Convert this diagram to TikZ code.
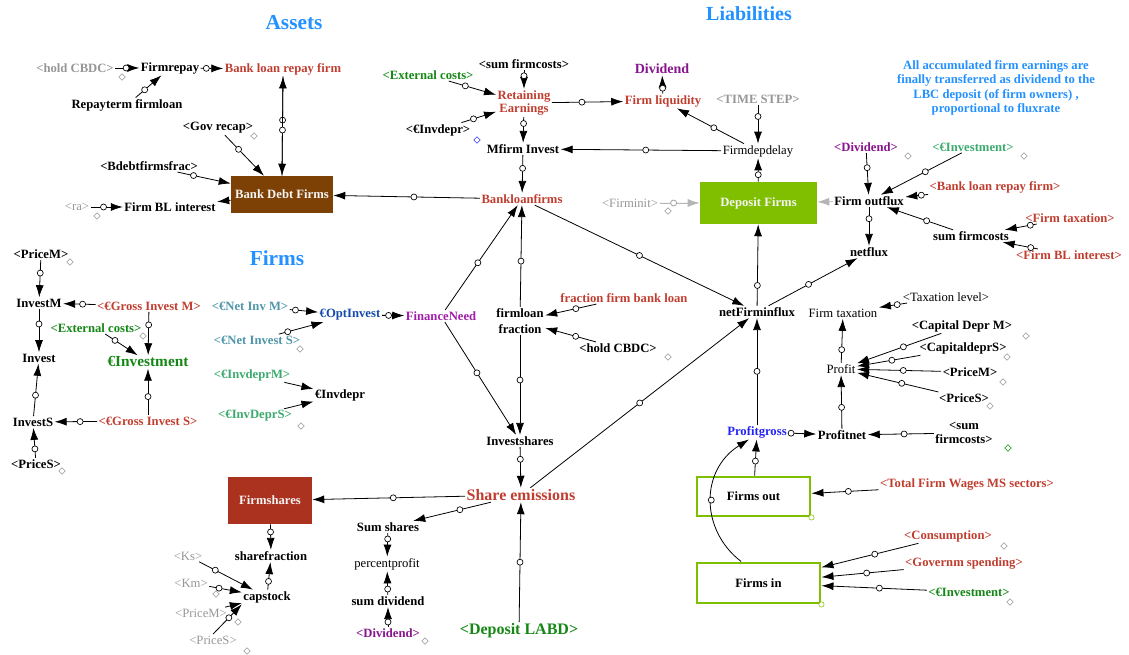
\documentclass[tikz,border=0pt]{standalone}
\usepackage{fontspec}
\setmainfont{Liberation Serif}
\usetikzlibrary{arrows.meta, shapes.geometric}

\definecolor{brick}{RGB}{192,62,48}
\definecolor{shade}{RGB}{150,150,150}
\definecolor{grn}{RGB}{20,135,20}
\definecolor{tealg}{RGB}{60,170,110}
\definecolor{tealb}{RGB}{80,150,170}
\definecolor{purp}{RGB}{135,20,140}
\definecolor{magen}{RGB}{160,30,170}
\definecolor{optblue}{RGB}{20,75,170}
\definecolor{pgblue}{RGB}{35,35,245}
\definecolor{headblue}{RGB}{35,145,255}
\definecolor{lime}{RGB}{128,190,0}
\definecolor{debtbrown}{RGB}{125,65,5}
\definecolor{sharebrick}{RGB}{170,50,30}

\begin{document}
\begin{tikzpicture}[x=0.75pt, y=-0.75pt,
    lbl/.style={font=\fontsize{9.5}{10}\selectfont\bfseries, inner sep=1pt, align=center},
    plain/.style={font=\fontsize{9.5}{10}\selectfont, inner sep=1pt},
    big/.style={font=\fontsize{12}{13}\selectfont\bfseries, inner sep=1pt},
    head/.style={font=\fontsize{16}{18}\selectfont\bfseries, text=headblue},
    stock/.style={lbl, text=white!92!gray, inner sep=0pt},
    flowbox/.style={lbl, draw=lime, line width=2.2pt, inner sep=0pt},
    link/.style={line width=0.6pt, -{Latex[length=9pt,width=6pt]}},
    ghost/.style={link, draw=shade!70, fill=shade!70},
    hnd/.style={circle, draw, fill=white, inner sep=0pt, minimum size=4.5pt, line width=0.5pt},
    dmark/.style={diamond, draw=shade, inner sep=0pt, minimum size=5pt, line width=0.4pt}]
\useasboundingbox (0,0) rectangle (1129,655);

% headings
\node[head] (assets) at (294,23) {Assets};
\node[head, font=\fontsize{15}{17}\selectfont\bfseries] (liabs) at (749,14) {Liabilities};
\node[head] (firms) at (277,258) {Firms};
\node[lbl, text=headblue, font=\fontsize{9.5}{10.9}\selectfont\bfseries] (note) at (996,88)
    {All accumulated firm earnings are\\finally transferred as dividend  to the\\LBC deposit (of firm owners) ,\\proportional to fluxrate};

% assets
\node[lbl, text=shade] (hcbdcA) at (75,68) {<hold CBDC>};
\node[lbl] (frepay) at (170,68) {Firmrepay};
\node[lbl, text=brick] (blrf) at (283,69) {Bank loan repay firm};
\node[lbl] (rterm) at (127,105) {Repayterm firmloan};
\node[lbl] (govrecap) at (218,128) {<Gov recap>};
\node[lbl] (bdff) at (149,166) {<Bdebtfirmsfrac>};
\node[plain, text=shade] (ra) at (77,207) {<ra>};
\node[lbl] (fbli) at (170,207) {Firm BL interest};
\node[stock, fill=debtbrown, minimum width=76.5pt, minimum height=27.75pt] (bdf) at (282,194.5) {Bank Debt Firms};

\draw[link] (hcbdcA) -- node[hnd, pos=.45]{} (frepay);
\draw[link] (frepay) -- node[hnd, pos=.25]{} (blrf);
\draw[link] (rterm) -- node[hnd, pos=.35]{} (frepay);
\draw[link] (bdf.north) -- node[hnd, pos=.56]{} (blrf.south);
\draw[link] (blrf.south) -- node[hnd, pos=.54]{} (bdf.north);
\draw[link] (govrecap) -- node[hnd, pos=.35]{} (bdf);
\draw[link] (bdff) -- node[hnd, pos=.3]{} (bdf);
\draw[link] (bdf) -- (fbli);
\draw[link] (ra) -- node[hnd, pos=.4]{} (fbli);

% liabilities
\node[lbl] (sfcA) at (524,64) {<sum firmcosts>};
\node[lbl, text=grn] (extA) at (428,75) {<External costs>};
\node[lbl, text=brick] (retearn) at (524,103) {Retaining\\Earnings};
\node[lbl] (invdprA) at (438,130) {<€Invdepr>};
\node[lbl] (mfinv) at (523,149) {Mfirm Invest};
\node[lbl, text=purp, font=\fontsize{10.5}{12}\selectfont\bfseries] (divid) at (662,69) {Dividend};
\node[lbl, text=brick] (fliq) at (663,101) {Firm liquidity};
\node[lbl, text=shade] (tstep) at (758,99) {<TIME STEP>};
\node[plain] (fdd) at (758,151) {Firmdepdelay};
\node[lbl, text=brick] (blf) at (522,199) {Bankloanfirms};
\node[plain, text=shade] (finit) at (630,203) {<Firminit>};
\node[stock, fill=lime, minimum width=87.75pt, minimum height=31.5pt] (depf) at (758.5,203) {Deposit Firms};

\draw[link] (sfcA) -- node[hnd, pos=.3]{} (retearn);
\draw[link] (extA) -- node[hnd, pos=.35]{} (retearn);
\draw[link] (invdprA) -- node[hnd, pos=.35]{} (retearn);
\draw[link] (retearn) -- node[hnd, pos=.42]{} (fliq);
\draw[link] (fliq) -- node[hnd, pos=.3]{} (divid);
\draw[link] (retearn) -- node[hnd, pos=.25]{} (mfinv);
\draw[link] (mfinv) -- node[hnd, pos=.35]{} (blf);
\draw[link] (fdd) -- node[hnd, pos=.47]{} (mfinv);
\draw[link] (fdd) -- node[hnd, pos=.45]{} (fliq);
\draw[link] (tstep) -- node[hnd, pos=.3]{} (fdd);
\draw[link] (depf) -- node[hnd, pos=.3]{} (fdd);
\draw[ghost] (finit) -- node[hnd, draw=shade, pos=.35]{} (depf);
\draw[link] (blf) -- node[hnd, pos=.45]{} (bdf);

% firm outflux
\node[lbl, text=purp] (dividB) at (866,147) {<Dividend>};
\node[lbl, text=tealg] (einvB) at (973,147) {<€Investment>};
\node[lbl] (foutf) at (869,201) {Firm outflux};
\node[lbl, text=brick] (blrfB) at (995,187) {<Bank loan repay firm>};
\node[lbl, text=brick] (ftaxB) at (1070,218) {<Firm taxation>};
\node[lbl] (sfc) at (971,236) {sum firmcosts};
\node[lbl, text=brick] (fbliB) at (1069,255) {<Firm BL interest>};
\node[lbl] (netflux) at (869,252) {netflux};

\draw[ghost] (foutf) -- (depf);
\draw[link] (dividB) -- node[hnd, pos=.35]{} (foutf);
\draw[link] (einvB) -- node[hnd, pos=.45]{} (foutf);
\draw[link] (blrfB) -- node[hnd, pos=.3]{} (foutf);
\draw[link] (sfc) -- node[hnd, pos=.4]{} (foutf);
\draw[link] (ftaxB) -- node[hnd, pos=.2]{} (sfc);
\draw[link] (fbliB) -- node[hnd, pos=.2]{} (sfc);
\draw[link] (foutf) -- node[hnd, pos=.3]{} (netflux);

% firms, left
\node[lbl] (pmA) at (41,254) {<PriceM>};
\node[lbl] (invm) at (39,303) {InvestM};
\node[lbl, text=brick] (gim) at (149,306) {<€Gross Invest M>};
\node[lbl, text=grn] (extB) at (96,328) {<External costs>};
\node[lbl, text=grn, font=\fontsize{11.5}{13}\selectfont\bfseries] (einv) at (148,362) {€Investment};
\node[lbl] (invest) at (39,358) {Invest};
\node[lbl] (invs) at (33,422) {InvestS};
\node[lbl, text=brick] (gis) at (148,421) {<€Gross Invest S>};
\node[lbl] (psA) at (36,464) {<PriceS>};

\draw[link] (pmA) -- node[hnd, pos=.35]{} (invm);
\draw[link] (gim) -- node[hnd, pos=.4]{} (invm);
\draw[link] (invm) -- node[hnd, pos=.35]{} (invest);
\draw[link] (invs) -- node[hnd, pos=.4]{} (invest);
\draw[link] (gis) -- node[hnd, pos=.4]{} (invs);
\draw[link] (psA) -- node[hnd, pos=.3]{} (invs);
\draw[link] (extB) -- node[hnd, pos=.3]{} (einv);
\draw[link] (gim) -- node[hnd, pos=.3]{} (einv);
\draw[link] (gis) -- node[hnd, pos=.4]{} (einv);

% firms, middle
\node[lbl, text=tealb] (nim) at (250,306) {<€Net Inv M>};
\node[lbl, text=tealb] (nis) at (257,340) {<€Net Invest S>};
\node[lbl, text=optblue] (optinv) at (350,315) {€OptInvest};
\node[lbl, text=magen] (finneed) at (441,316) {FinanceNeed};
\node[lbl, text=tealg] (idm) at (252,375) {<€InvdeprM>};
\node[lbl, text=tealg] (ids) at (255,416) {<€InvDeprS>};
\node[lbl] (invdpr) at (340,395) {€Invdepr};

\draw[link] (nim) -- node[hnd, pos=.2]{} (optinv);
\draw[link] (nis) -- node[hnd, pos=.2]{} (optinv);
\draw[link] (optinv) -- node[hnd, pos=.3]{} (finneed);
\draw[link] (idm) -- (invdpr);
\draw[link] (ids) -- (invdpr);

% centre
\node[lbl, font=\fontsize{9.5}{12}\selectfont\bfseries] (flf) at (520,321) {firmloan\\fraction};
\node[lbl, text=brick] (ffbl) at (624,298) {fraction firm bank loan};
\node[lbl] (hcbdcB) at (618,348) {<hold CBDC>};
\node[lbl] (invsh) at (520,441) {Investshares};
\node[big, text=brick] (shem) at (521,495) {Share emissions};
\node[lbl] (nfi) at (757,312) {netFirminflux};
\node[stock, fill=sharebrick, minimum width=63pt, minimum height=35.25pt] (fshares) at (270,500.5) {Firmshares};
\node[lbl] (sumsh) at (388,527) {Sum shares};
\node[plain] (pprof) at (387,564) {percentprofit};
\node[lbl] (sumdiv) at (388,601) {sum dividend};
\node[lbl, text=purp] (dividC) at (388,633) {<Dividend>};
\node[big, text=grn] (dlabd) at (519,631) {<Deposit LABD>};

\draw[link] (blf) -- node[hnd, pos=.5]{} (nfi);
\draw[link] (finneed) -- node[hnd, pos=.45]{} (blf);
\draw[link] (flf) -- node[hnd, pos=.45]{} (blf);
\draw[link] (ffbl) -- node[hnd, pos=.4]{} (flf);
\draw[link] (hcbdcB) -- node[hnd, pos=.4]{} (flf);
\draw[link] (finneed) -- node[hnd, pos=.45]{} (invsh);
\draw[link] (flf) -- node[hnd, pos=.45]{} (invsh);
\draw[link] (invsh) -- node[hnd, pos=.3]{} (shem);
\draw[link] (shem) -- node[hnd, pos=.5]{} (nfi);
\draw[link] (nfi) -- node[hnd, pos=.25]{} (depf);
\draw[link] (nfi) -- node[hnd, pos=.45]{} (netflux);
\draw[link] (shem) -- node[hnd, pos=.47]{} (fshares);
\draw[link] (shem) -- node[hnd, pos=.4]{} (sumsh);
\draw[link] (sumsh) -- node[hnd, pos=.25]{} (pprof);
\draw[link] (sumdiv) -- node[hnd, pos=.25]{} (pprof);
\draw[link] (dividC) -- node[hnd, pos=.25]{} (sumdiv);
\draw[link] (dlabd) -- node[hnd, pos=.5]{} (shem);

% shares
\node[lbl] (shfrac) at (271,556) {sharefraction};
\node[lbl] (capst) at (267,597) {capstock};
\node[plain, text=shade] (ks) at (188,556) {<Ks>};
\node[plain, text=shade] (km) at (191,583) {<Km>};
\node[plain, text=shade] (pmB) at (201,613) {<PriceM>};
\node[plain, text=shade] (psB) at (213,640) {<PriceS>};

\draw[link] (fshares) -- node[hnd, pos=.3]{} (shfrac);
\draw[link] (capst) -- node[hnd, pos=.3]{} (shfrac);
\draw[link] (ks) -- node[hnd, pos=.3]{} (capst);
\draw[link] (km) -- node[hnd, pos=.3]{} (capst);
\draw[link] (pmB) -- (capst);
\draw[link] (psB.north) -- node[hnd, pos=.55]{} (capst.south west);

% profit
\node[plain] (ftax) at (843,313) {Firm taxation};
\node[plain] (taxl) at (946,297) {<Taxation level>};
\node[plain] (profit) at (841,369) {Profit};
\node[lbl] (cdm) at (962,326) {<Capital Depr M>};
\node[lbl] (cds) at (963,348) {<CapitaldeprS>};
\node[lbl] (pmC) at (970,372) {<PriceM>};
\node[lbl] (psC) at (964,398) {<PriceS>};
\node[lbl] (pnet) at (842,435) {Profitnet};
\node[lbl, text=pgblue] (pgross) at (757,432) {Profitgross};
\node[lbl] (sfcB) at (964,433) {<sum\\firmcosts>};

\draw[link] (taxl) -- node[hnd, pos=.35]{} (ftax);
\draw[link] (profit) -- node[hnd, pos=.3]{} (ftax);
\draw[link] (cdm) -- node[hnd, pos=.45]{} (profit);
\draw[link] (cds) -- node[hnd, pos=.45]{} (profit);
\draw[link] (pmC) -- node[hnd, pos=.45]{} (profit);
\draw[link] (psC) -- node[hnd, pos=.45]{} (profit);
\draw[link] (pnet) -- node[hnd, pos=.4]{} (profit);
\draw[link] (pgross) -- node[hnd, pos=.1]{} (pnet);
\draw[link] (sfcB) -- node[hnd, pos=.45]{} (pnet);
\draw[link] (pgross) -- node[hnd, pos=.5]{} (nfi);

% flows in and out
\node[flowbox, minimum width=84.75pt, minimum height=29.25pt] (fout) at (753.5,496.5) {Firms out};
\node[flowbox, minimum width=92.25pt, minimum height=30pt] (fin) at (758.5,583) {Firms in};
\node[lbl, text=brick] (tfw) at (967,485) {<Total Firm Wages MS sectors>};
\node[lbl, text=brick] (cons) at (948,536) {<Consumption>};
\node[lbl, text=brick] (govs) at (964,564) {<Governm spending>};
\node[lbl, text=grn] (einvC) at (969,592) {<€Investment>};

\draw[link] (fout) -- node[hnd, pos=.4]{} (pgross);
\draw[link] ([xshift=-13pt]fin.north) .. controls (700,530) and (700,470) .. node[hnd, pos=.5]{} ([xshift=-6pt]pgross.south);
\draw[link] (tfw) -- node[hnd, pos=.45]{} (fout);
\draw[link] (cons) -- node[hnd, pos=.45]{} (fin);
\draw[link] (govs) -- node[hnd, pos=.45]{} (fin);
\draw[link] (einvC) -- node[hnd, pos=.45]{} (fin);

% loose markers
\foreach \p [count=\i] in {(122,77),(254,136),(97,216),(668,211),(908,156),(1024,156),
    (1026,336),(1007,357),(1003,382),(990,406),(1004,546),(1010,602),(425,641),
    (216,594),(238,622),(247,651),(70,262),(143,336),(62,471),(300,349),(301,426),(668,357)}
  \node[dmark] (mk\i) at \p {};
\node[dmark, draw=blue!80] (mkblue) at (477,140) {};
\node[dmark, draw=green!60!black] (mkgreen) at (1008,448) {};
\node[circle, draw=lime, fill=white, inner sep=0pt, minimum size=4pt] (mkout) at (fout.south east) {};
\node[circle, draw=lime, fill=white, inner sep=0pt, minimum size=4pt] (mkin) at (fin.south east) {};
\end{tikzpicture}
\end{document}
